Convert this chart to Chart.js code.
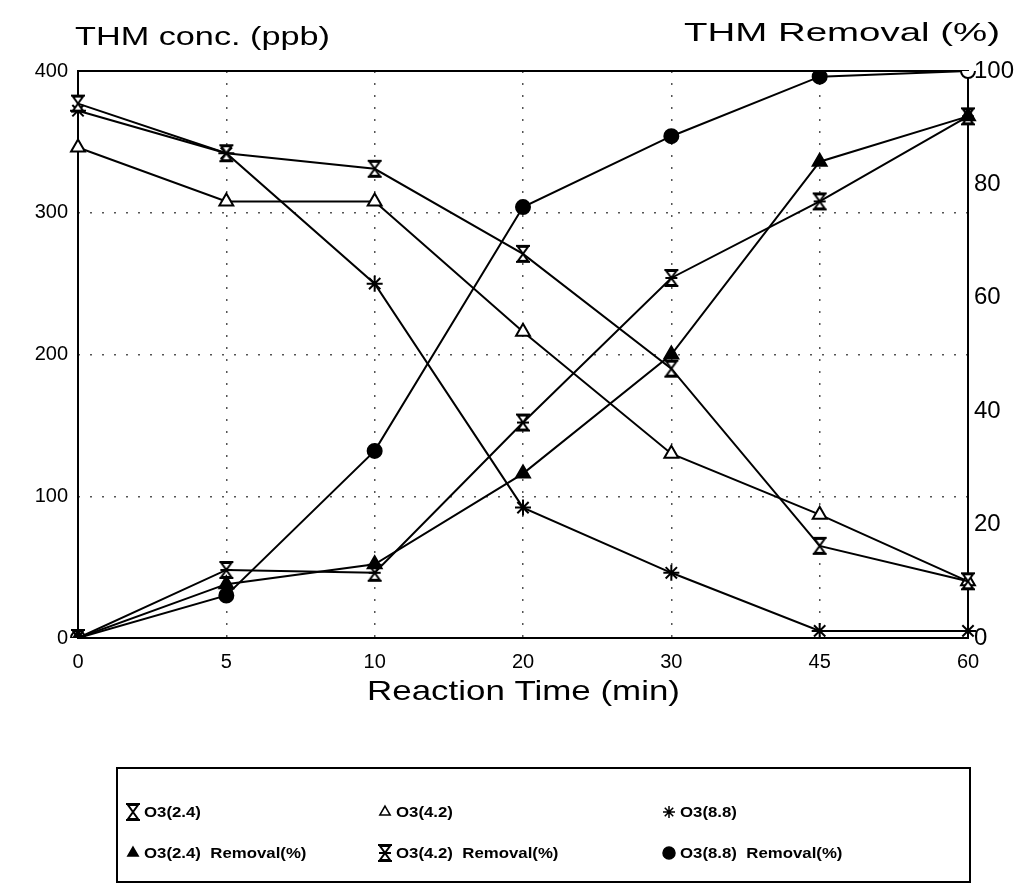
<!DOCTYPE html>
<html>
<head>
<meta charset="utf-8">
<script src="https://cdn.jsdelivr.net/npm/chart.js@4.4.1/dist/chart.umd.min.js"></script>
<style>
  html, body { margin: 0; padding: 0; background: #fff; }
  #wrap { width: 1034px; height: 895px; position: relative; }
</style>
</head>
<body>
<div id="wrap"><canvas id="thmChart"></canvas></div>
<script>
// reaction time categories (min)
var times = ['0', '5', '10', '20', '30', '45', '60'];

// THM concentration (ppb), left axis
var o3_24 = [377, 342, 331, 271, 190, 65, 40];
var o3_42 = [346, 308, 308, 216, 130, 87, 40];
var o3_88 = [372, 342, 250, 92, 46, 5, 5];

// THM removal (%), right axis
var rem_24 = [0, 9.5, 13, 29, 50, 84, 92];
var rem_42 = [0, 12, 11.5, 38, 63.5, 77, 92];
var rem_88 = [0, 7.5, 33, 76, 88.5, 99, 100];

var concTicks = [0, 100, 200, 300, 400];
var remTicks = [0, 20, 40, 60, 80, 100];

// hourglass marker, with or without a middle bar
function hourglass(midBar) {
    var c = document.createElement('canvas');
    c.width = 18; c.height = 20;
    var g = c.getContext('2d');
    g.strokeStyle = '#000';
    g.fillStyle = '#fff';
    g.lineWidth = 2;
    g.beginPath();
    g.moveTo(4, 3); g.lineTo(14, 3); g.lineTo(9, 10);
    g.lineTo(14, 17); g.lineTo(4, 17); g.lineTo(9, 10);
    g.closePath();
    g.fill(); g.stroke();
    g.beginPath();
    g.moveTo(2, 2); g.lineTo(16, 2);
    g.moveTo(2, 18); g.lineTo(16, 18);
    if (midBar) { g.moveTo(3, 10); g.lineTo(15, 10); }
    g.stroke();
    return c;
}

var hgOpen = hourglass(false);
var hgBar = hourglass(true);

function series(label, data, axis, style, fill, radius) {
    return {
        label: label,
        data: data,
        yAxisID: axis,
        borderColor: '#000',
        borderWidth: 2,
        tension: 0,
        fill: false,
        pointStyle: style,
        pointRadius: radius || 7,
        pointBorderColor: '#000',
        pointBorderWidth: 2,
        pointBackgroundColor: fill
    };
}

var datasets = [
    series('O3(2.4)', o3_24, 'yConc', hgOpen, '#fff'),
    series('O3(4.2)', o3_42, 'yConc', 'triangle', '#fff', 8),
    series('O3(8.8)', o3_88, 'yConc', 'star', '#000', 8),
    series('O3(2.4)  Removal(%)', rem_24, 'yRem', 'triangle', '#000', 8),
    series('O3(4.2)  Removal(%)', rem_42, 'yRem', hgBar, '#fff'),
    series('O3(8.8)  Removal(%)', rem_88, 'yRem', 'circle',
        ['#fff', '#000', '#000', '#000', '#000', '#000', '#fff'], 7)
];

var FONT = '"Liberation Sans", Arial, sans-serif';

// the scanned headings are wide, so stretch text to a target width
function wideText(ctx, text, x, y, w) {
    var m = ctx.measureText(text).width;
    ctx.save();
    ctx.translate(x, y);
    ctx.scale(w / m, 1);
    ctx.fillText(text, 0, 0);
    ctx.restore();
}

// frame, axis headings and the boxed legend
var decor = {
    id: 'decor',
    beforeDatasetsDraw: function (chart) {
        var a = chart.chartArea, ctx = chart.ctx;
        ctx.save();
        ctx.strokeStyle = '#000';
        ctx.lineWidth = 2;
        ctx.strokeRect(a.left, a.top, a.right - a.left, a.bottom - a.top);
        ctx.restore();
    },
    afterDraw: function (chart) {
        var ctx = chart.ctx;
        ctx.save();
        ctx.fillStyle = '#000';
        ctx.font = '26px ' + FONT;
        ctx.textBaseline = 'middle';
        ctx.textAlign = 'left';
        wideText(ctx, 'THM conc. (ppb)', 75, 38, 255);
        wideText(ctx, 'THM Removal (%)', 684, 34, 316);
        ctx.font = '28px ' + FONT;
        wideText(ctx, 'Reaction Time (min)', 367, 692, 313);

        // legend box
        ctx.lineWidth = 2;
        ctx.strokeStyle = '#000';
        ctx.strokeRect(117, 768, 853, 114);
        var cols = [133, 385, 669];
        var rows = [812, 853];
        ctx.font = 'bold 14px ' + FONT;
        chart.data.datasets.forEach(function (ds, i) {
            var x = cols[i % 3], y = rows[Math.floor(i / 3)];
            var bg = Array.isArray(ds.pointBackgroundColor) ? '#000' : ds.pointBackgroundColor;
            ctx.fillStyle = bg;
            ctx.strokeStyle = '#000';
            ctx.lineWidth = 1.5;
            Chart.helpers.drawPoint(ctx, {
                pointStyle: ds.pointStyle,
                radius: 6,
                rotation: 0,
                borderWidth: 1.5
            }, x, y);
            ctx.fillStyle = '#000';
            var w = ctx.measureText(ds.label).width;
            wideText(ctx, ds.label, x + 11, y + 1, w * 1.2);
        });
        ctx.restore();
    }
};

var config = {
    type: 'line',
    data: {
        labels: times,
        datasets: datasets
    },
    options: {
        responsive: true,
        maintainAspectRatio: false,
        animation: false,
        layout: {
            padding: { top: 71, right: 0, bottom: 175, left: 0 }
        },
        plugins: {
            legend: { display: false },
            tooltip: { enabled: false }
        },
        scales: {
            x: {
                type: 'category',
                offset: false,
                afterFit: function (s) { s.height = 82; },
                grid: {
                    color: '#555',
                    lineWidth: 1.5,
                    drawTicks: false
                },
                border: { display: false, dash: [2, 10] },
                ticks: {
                    color: '#000',
                    padding: 12,
                    font: { family: FONT, size: 20 }
                }
            },
            yConc: {
                type: 'linear',
                position: 'left',
                min: 0,
                max: 400,
                afterFit: function (s) { s.width = 78; },
                afterBuildTicks: function (s) {
                    s.ticks = concTicks.map(function (v) { return { value: v }; });
                },
                grid: {
                    color: '#555',
                    lineWidth: 1.5,
                    drawTicks: false
                },
                border: { display: false, dash: [2, 10] },
                ticks: {
                    color: '#000',
                    padding: 10,
                    font: { family: FONT, size: 20 }
                }
            },
            yRem: {
                type: 'linear',
                position: 'right',
                min: 0,
                max: 100,
                afterFit: function (s) { s.width = 66; },
                afterBuildTicks: function (s) {
                    s.ticks = remTicks.map(function (v) { return { value: v }; });
                },
                grid: { drawOnChartArea: false, drawTicks: false },
                border: { display: false },
                ticks: {
                    color: '#000',
                    padding: 6,
                    font: { family: FONT, size: 24 }
                }
            }
        }
    },
    plugins: [decor]
};

var ctx = document.getElementById('thmChart').getContext('2d');
var chart = new Chart(ctx, config);
</script>
</body>
</html>
